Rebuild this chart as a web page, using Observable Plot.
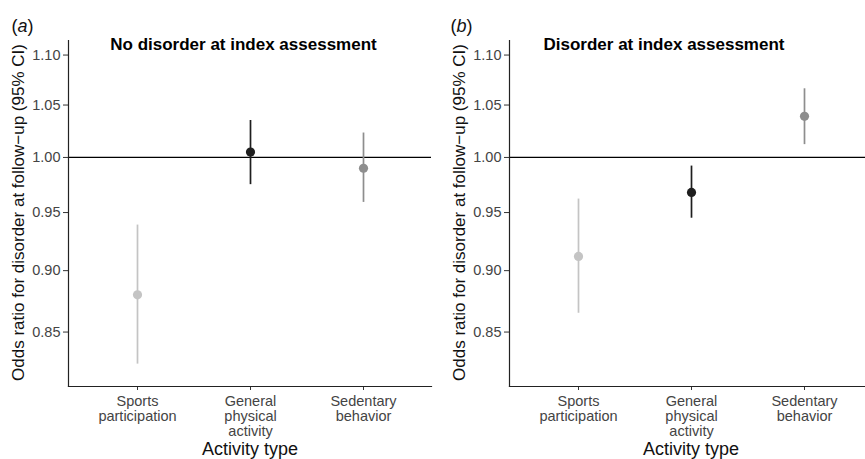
<!DOCTYPE html>
<html>
<head>
<meta charset="utf-8">
<script src="https://cdn.jsdelivr.net/npm/d3@7"></script>
<script src="https://cdn.jsdelivr.net/npm/@observablehq/plot@0.6"></script>
<style>
  html, body { margin: 0; padding: 0; background: white; }
  #wrap { width: 865px; height: 459px; overflow: hidden; display: flex; flex-direction: row; }
  #wrap svg { flex: 0 0 auto; }
</style>
</head>
<body>
<div id="wrap"></div>
<script>
const categories = ["Sports participation", "General physical activity", "Sedentary behavior"];
const tickLabels = ["Sports\nparticipation", "General\nphysical\nactivity", "Sedentary\nbehavior"];
const yTicks = [0.85, 0.90, 0.95, 1.00, 1.05, 1.10];
const pointColors = ["#c4c4c4", "#1e1e1e", "#8e8e8e"];

// Panel (a): No disorder at index assessment
const orA = [0.880, 1.005, 0.990];
const loA = [0.825, 0.975, 0.959];
const hiA = [0.939, 1.035, 1.023];

// Panel (b): Disorder at index assessment
const orB = [0.912, 0.968, 1.039];
const loB = [0.865, 0.945, 1.012];
const hiB = [0.962, 0.992, 1.066];

const panelLabels = ["a", "b"];
const panelTitles = ["No disorder at index assessment", "Disorder at index assessment"];
const yTitle = "Odds ratio for disorder at follow\u2212up (95% CI)";
const xTitle = "Activity type";

const font = "Liberation Sans, Arial, Helvetica, sans-serif";
const fmt = d3.format(".2f");

function panel(letter, title, or, lo, hi, layout) {
  const data = categories.map((c, i) => ({cat: c, or: or[i], lo: lo[i], hi: hi[i]}));
  const svg = Plot.plot({
    width: 441,
    height: 459,
    marginLeft: 68,
    marginRight: 10,
    marginTop: 40,
    marginBottom: 73,
    style: {fontFamily: font, background: "white", overflow: "visible"},
    x: {type: "point", domain: categories, padding: 0.6, label: null},
    y: {type: "log", domain: [0.808, 1.115], label: null},
    color: {domain: categories, range: pointColors},
    marks: [
      Plot.ruleY([1], {stroke: "black", strokeWidth: 1.2}),
      Plot.ruleX(data, {x: "cat", y1: "lo", y2: "hi", stroke: "cat", strokeWidth: 1.7}),
      Plot.dot(data, {x: "cat", y: "or", fill: "cat", r: 4.6}),
      Plot.axisY({ticks: yTicks, tickSize: 5, tickFormat: () => "", stroke: "#333", label: null}),
      Plot.text(yTicks, {y: d => d, text: d => fmt(d), frameAnchor: "left", textAnchor: "end",
                         dx: -8, fontSize: 14.5, fill: "#444"}),
      Plot.axisX({tickFormat: d => tickLabels[categories.indexOf(d)], tickSize: 4, tickPadding: 5,
                  fontSize: 14.5, lineHeight: 1.04, color: "#444", stroke: "#333", label: null}),
      Plot.frame({anchor: "left", stroke: "#222", strokeWidth: 1.2}),
      Plot.frame({anchor: "bottom", stroke: "#222", strokeWidth: 1.2}),
      Plot.text([title], {frameAnchor: "top", dx: layout.titleDx, dy: -3, fontWeight: "bold", fontSize: 17, fill: "black"}),
      Plot.text([yTitle], {frameAnchor: "left", textAnchor: "middle", rotate: -90, dx: -50, dy: -1,
                           fontSize: 17, fill: "#111"}),
      Plot.text([xTitle], {frameAnchor: "bottom", dy: 68, fontSize: 18, fill: "#111"})
    ]
  });
  const s = d3.select(svg);
  const t = s.append("text")
    .attr("x", layout.letterX).attr("y", 32)
    .attr("text-anchor", "start")
    .attr("font-family", font).attr("font-size", 18).attr("fill", "#111");
  t.append("tspan").text("(");
  t.append("tspan").attr("font-style", "italic").text(letter);
  t.append("tspan").text(")");
  return svg;
}

const wrap = document.getElementById("wrap");
wrap.appendChild(panel(panelLabels[0], panelTitles[0], orA, loA, hiA, {titleDx: -6.5, letterX: 11.5}));
wrap.appendChild(panel(panelLabels[1], panelTitles[1], orB, loB, hiB, {titleDx: -27, letterX: 9.5}));
</script>
</body>
</html>
